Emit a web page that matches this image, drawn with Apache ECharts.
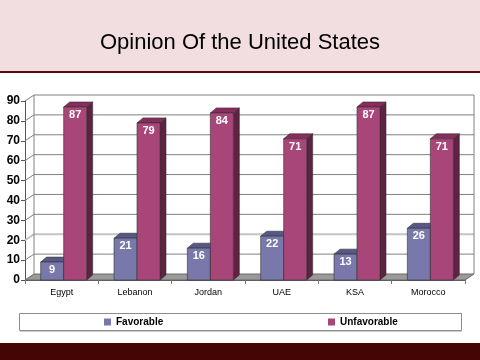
<!DOCTYPE html>
<html>
<head>
<meta charset="utf-8">
<script src="https://cdn.jsdelivr.net/npm/echarts@6/dist/echarts.min.js"></script>
<style>html,body{margin:0;padding:0;background:#fff}#c{width:480px;height:360px}</style>
</head>
<body>
<div id="c"></div>
<script>
var categories = ['Egypt', 'Lebanon', 'Jordan', 'UAE', 'KSA', 'Morocco'];
var favorable = [9, 21, 16, 22, 13, 26];
var unfavorable = [87, 79, 84, 71, 87, 71];
var yTicks = [0, 10, 20, 30, 40, 50, 60, 70, 80, 90];
var seriesNames = ['Favorable', 'Unfavorable'];

var DX = 9, DY = 6;       // wall depth
var BDX = 6, BDY = 5;     // bar depth
var BW = 23;

var palette = {
  fav: { front: '#7878aa', top: '#585888', side: '#4a4a75' },
  unf: { front: '#a8467a', top: '#882c5c', side: '#5e2242' }
};

function wallsRender(params, api) {
  var cs = params.coordSys;
  var v = api.value(0);
  var y = api.coord([0, v])[1];
  var x0 = cs.x, x1 = cs.x + cs.width;
  var children = [];
  var isHi = (v === 20);
  var lineStyle = { stroke: isHi ? '#c4c4c4' : '#808080', lineWidth: isHi ? 2 : 1, fill: null };
  if (v === 0) {
    children.push({ type: 'polygon', shape: { points: [[x0, y], [x1, y], [x1 + DX, y - DY], [x0 + DX, y - DY]] },
      style: { fill: '#9a9a9a', stroke: '#6a6a6a', lineWidth: 1 } });
  } else {
    children.push({ type: 'polyline', shape: { points: [[x0, y], [x0 + DX, y - DY], [x1 + DX, y - DY]] }, style: lineStyle });
  }
  if (v === yTicks[yTicks.length - 1]) {
    var yb = api.coord([0, 0])[1];
    children.push({ type: 'line', shape: { x1: x0 + DX, y1: y - DY, x2: x0 + DX, y2: yb - DY }, style: { stroke: '#808080', lineWidth: 1 } });
    children.push({ type: 'line', shape: { x1: x1 + DX, y1: y - DY, x2: x1 + DX, y2: yb - DY }, style: { stroke: '#808080', lineWidth: 1 } });
  }
  return { type: 'group', children: children };
}

function barRender(offset, col) {
  return function (params, api) {
    var idx = api.value(0), val = api.value(1);
    var top = api.coord([idx, val]);
    var base = api.coord([idx, 0]);
    var l = top[0] + offset, r = l + BW;
    var t = top[1], b = base[1];
    return { type: 'group', children: [
      { type: 'polygon', shape: { points: [[r, t], [r + BDX, t - BDY], [r + BDX, b - BDY], [r, b]] },
        style: { fill: col.side, stroke: '#333', lineWidth: 0.6 } },
      { type: 'polygon', shape: { points: [[l, t], [l + BDX, t - BDY], [r + BDX, t - BDY], [r, t]] },
        style: { fill: col.top, stroke: '#333', lineWidth: 0.6 } },
      { type: 'rect', shape: { x: l, y: t, width: BW, height: b - t },
        style: { fill: col.front, stroke: '#333', lineWidth: 0.6 } },
      { type: 'text', x: l + BW / 2, y: t + 8,
        style: { text: String(val), fill: '#fff', font: 'bold 11px "Liberation Sans", Arial, sans-serif', align: 'center', verticalAlign: 'middle' } }
    ]};
  };
}

var legendText = { fontFamily: '"Liberation Sans", Arial, sans-serif', fontSize: 10, fontWeight: 'bold', color: '#000' };

var chart = echarts.init(document.getElementById('c'), null, { renderer: 'canvas' });
chart.setOption({
  animation: false,
  backgroundColor: '#ffffff',
  title: {
    text: 'Opinion Of the United States', left: 'center', top: 27,
    textStyle: { fontFamily: '"Liberation Sans", Arial, sans-serif', fontSize: 22, fontWeight: 'normal', color: '#000' }
  },
  graphic: [
    { type: 'rect', z: -10, shape: { x: 0, y: 0, width: 480, height: 71 }, style: { fill: '#f2dde0' } },
    { type: 'rect', z: -10, shape: { x: 0, y: 71, width: 480, height: 2 }, style: { fill: '#5c0a0a' } },
    { type: 'rect', z: -10, shape: { x: 0, y: 343, width: 480, height: 17 }, style: { fill: '#440505' } },
    { type: 'rect', z: -10, shape: { x: 19.5, y: 313.5, width: 442, height: 17 }, style: { fill: '#fff', stroke: '#8c8c8c', lineWidth: 1 } },
    { type: 'line', z: -10, shape: { x1: 20, y1: 331.5, x2: 462, y2: 331.5 }, style: { stroke: '#cfcfcf', lineWidth: 1 } }
  ],
  legend: [
    { data: [seriesNames[0]], left: 104, top: 317, padding: 0, itemWidth: 7, itemHeight: 7, itemGap: 5,
      textStyle: legendText, icon: 'rect' },
    { data: [seriesNames[1]], left: 328, top: 317, padding: 0, itemWidth: 7, itemHeight: 7, itemGap: 5,
      textStyle: legendText, icon: 'rect' }
  ],
  grid: { left: 25, right: 15, top: 101, bottom: 80 },
  xAxis: {
    type: 'category', data: categories,
    axisLine: { show: true, lineStyle: { color: '#555', width: 1 } },
    axisTick: { show: true, length: 4, lineStyle: { color: '#777' } },
    axisLabel: { margin: 8, fontFamily: '"Liberation Sans", Arial, sans-serif', fontSize: 9, color: '#000' },
    splitLine: { show: false }
  },
  yAxis: {
    type: 'value', min: 0, max: 90, interval: 10,
    axisLine: { show: true, lineStyle: { color: '#555', width: 1 } },
    axisTick: { show: true, length: 4, lineStyle: { color: '#555' } },
    axisLabel: { margin: 5, fontFamily: '"Liberation Sans", Arial, sans-serif', fontSize: 12, fontWeight: 'bold', color: '#000' },
    splitLine: { show: false }
  },
  series: [
    { type: 'custom', name: 'walls', z: 1, silent: true, data: yTicks.map(function (v) { return [v]; }),
      encode: { y: 0 }, renderItem: wallsRender },
    { type: 'custom', name: seriesNames[0], z: 2, itemStyle: { color: palette.fav.front },
      data: favorable.map(function (v, i) { return [i, v]; }), encode: { x: 0, y: 1 },
      renderItem: barRender(-21, palette.fav) },
    { type: 'custom', name: seriesNames[1], z: 3, itemStyle: { color: palette.unf.front },
      data: unfavorable.map(function (v, i) { return [i, v]; }), encode: { x: 0, y: 1 },
      renderItem: barRender(2, palette.unf) }
  ]
});
</script>
</body>
</html>
